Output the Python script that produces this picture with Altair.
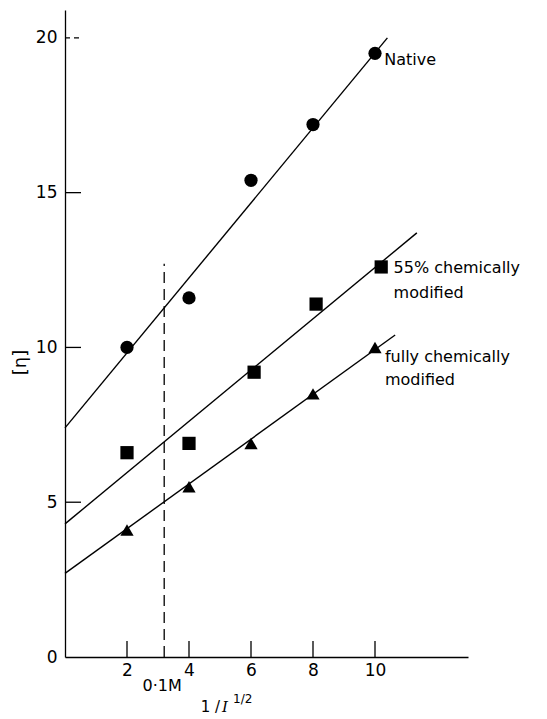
import altair as alt
import pandas as pd

# Data
x_vals = [2, 4, 6, 8, 10]
native_y = [10.0, 11.6, 15.4, 17.2, 19.5]
mod55_x = [2, 4, 6.1, 8.1, 10.2]
mod55_y = [6.6, 6.9, 9.2, 11.4, 12.6]
full_y = [4.1, 5.5, 6.9, 8.5, 10.0]

# fitted lines (endpoints)
native_fit_x = [0, 10.4]
native_fit_y = [7.4, 20.0]
mod55_fit_x = [0, 11.35]
mod55_fit_y = [4.3, 13.7]
full_fit_x = [0, 10.65]
full_fit_y = [2.7, 10.4]

x_ticks = [2, 4, 6, 8, 10]
y_ticks_solid = [5, 10, 15]
y_ticks_dashed = [20]
cutoff_x = [3.2]
cutoff_top = [12.7]

labels_text = ["Native", "55% chemically", "modified", "fully chemically", "modified"]
labels_x = [10.3, 10.6, 10.6, 10.32, 10.32]
labels_y = [19.3, 12.55, 11.75, 9.68, 8.95]

FONT = "DejaVu Sans"
W, H = 403, 647
xs = alt.Scale(domain=[0, 13], nice=False, zero=False)
ys = alt.Scale(domain=[0, 20.9], nice=False, zero=False)

pts = pd.DataFrame({
    "x": x_vals + mod55_x + x_vals,
    "y": native_y + mod55_y + full_y,
    "s": ["native"] * 5 + ["55"] * 5 + ["full"] * 5,
})
fits = pd.DataFrame({
    "x": native_fit_x + mod55_fit_x + full_fit_x,
    "y": native_fit_y + mod55_fit_y + full_fit_y,
    "s": ["native"] * 2 + ["55"] * 2 + ["full"] * 2,
})

X = alt.X("x:Q", scale=xs, axis=alt.Axis(values=x_ticks, ticks=False, grid=False,
          domainColor="black", domainWidth=1.3, labelFont=FONT, labelFontSize=17,
          labelColor="black", labelPadding=5, title=None))
Y = alt.Y("y:Q", scale=ys, axis=alt.Axis(values=[0, 5, 10, 15, 20], ticks=False, grid=False,
          domainColor="black", domainWidth=1.3, labelFont=FONT, labelFontSize=17,
          labelColor="black", labelPadding=8, title="[η]", titleFont=FONT,
          titleFontSize=18, titleFontWeight="normal", titleColor="black",
          titleX=-36, titleY=352))

lines = alt.Chart(fits).mark_line(color="black", strokeWidth=1.4).encode(
    x=X, y=Y, detail="s:N")

shape_scale = alt.Scale(domain=["native", "55", "full"],
                        range=["circle", "square", "triangle-up"])
points = alt.Chart(pts).mark_point(filled=True, color="black", opacity=1, size=175).encode(
    x="x:Q", y="y:Q",
    shape=alt.Shape("s:N", scale=shape_scale, legend=None))

xt = alt.Chart(pd.DataFrame({"x": x_ticks})).mark_rule(color="black", strokeWidth=1.3).encode(
    x="x:Q", y=alt.value(H), y2=alt.value(H - 16))
yt = alt.Chart(pd.DataFrame({"y": y_ticks_solid})).mark_rule(color="black", strokeWidth=1.3).encode(
    y="y:Q", x=alt.value(0), x2=alt.value(16))
yt20 = alt.Chart(pd.DataFrame({"y": y_ticks_dashed})).mark_rule(
    color="black", strokeWidth=1.3, strokeDash=[5, 4]).encode(
    y="y:Q", x=alt.value(0), x2=alt.value(16))

cut = alt.Chart(pd.DataFrame({"x": cutoff_x, "y": [0], "y2": cutoff_top})).mark_rule(
    color="black", strokeWidth=1.3, strokeDash=[11, 6]).encode(
    x="x:Q", y="y:Q", y2="y2:Q")

ann = alt.Chart(pd.DataFrame({"t": labels_text, "x": labels_x, "y": labels_y})).mark_text(
    align="left", baseline="middle", font=FONT, fontSize=16, color="black").encode(
    x="x:Q", y="y:Q", text="t:N")

cut_lbl = alt.Chart(pd.DataFrame({"x": cutoff_x, "t": ["0·1M"]})).mark_text(
    align="center", baseline="middle", font=FONT, fontSize=16, color="black", dx=-2).encode(
    x="x:Q", y=alt.value(H + 29), text="t:N")

xtitle = alt.Chart(pd.DataFrame({"t": ["1 / "]})).mark_text(
    align="right", baseline="middle", font=FONT, fontSize=15, color="black").encode(
    x=alt.value(155), y=alt.value(H + 50), text="t:N")
xtitle_i = alt.Chart(pd.DataFrame({"t": ["I"]})).mark_text(
    align="left", baseline="middle", font="DejaVu Serif", fontSize=15, fontStyle="italic",
    color="black").encode(
    x=alt.value(157), y=alt.value(H + 50), text="t:N")
xtitle_sup = alt.Chart(pd.DataFrame({"t": ["1/2"]})).mark_text(
    align="left", baseline="middle", font=FONT, fontSize=12, color="black").encode(
    x=alt.value(168), y=alt.value(H + 42), text="t:N")

chart = alt.layer(lines, points, xt, yt, yt20, cut, ann, cut_lbl, xtitle, xtitle_i, xtitle_sup).properties(
    width=W, height=H,
    autosize=alt.AutoSizeParams(type="none"),
    padding={"left": 57, "top": 2, "right": 70, "bottom": 60},
    background="white",
).configure_view(stroke=None)

chart.save("out.html", embed_options={"renderer": "svg", "actions": False})
